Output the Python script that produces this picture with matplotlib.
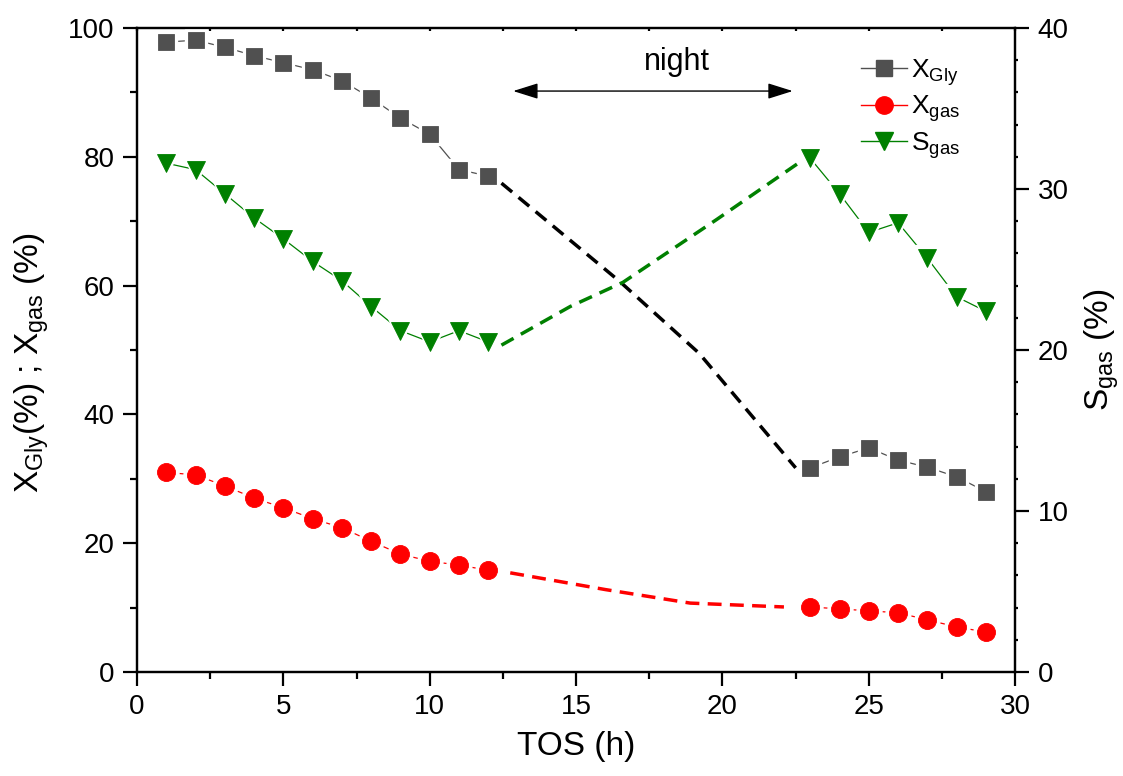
import matplotlib
matplotlib.use("Agg")
import matplotlib.pyplot as plt
from matplotlib.lines import Line2D
from matplotlib.ticker import MultipleLocator

plt.rcParams['font.family'] = ['Liberation Sans', 'DejaVu Sans']
plt.rcParams['mathtext.fontset'] = 'custom'
plt.rcParams['mathtext.rm'] = 'Liberation Sans'
plt.rcParams['mathtext.it'] = 'Liberation Sans:italic'
plt.rcParams['mathtext.bf'] = 'Liberation Sans:bold'

# ---- data ----
tos_day1 = [1, 2, 3, 4, 5, 6, 7, 8, 9, 10, 11, 12]
tos_day2 = [23, 24, 25, 26, 27, 28, 29]

x_gly_day1 = [97.8, 98.1, 97.0, 95.7, 94.6, 93.5, 91.8, 89.1, 86.0, 83.5, 78.0, 77.0]
x_gly_day2 = [31.7, 33.4, 34.8, 32.9, 31.8, 30.3, 28.0]

x_gas_day1 = [31.0, 30.6, 28.9, 27.0, 25.5, 23.8, 22.4, 20.3, 18.3, 17.2, 16.6, 15.8]
x_gas_day2 = [10.1, 9.8, 9.5, 9.2, 8.1, 7.0, 6.2]

s_gas_day1 = [31.6, 31.2, 29.7, 28.2, 26.9, 25.5, 24.3, 22.7, 21.2, 20.5, 21.2, 20.5]
s_gas_day2 = [31.9, 29.7, 27.3, 27.9, 25.7, 23.3, 22.4]

# night (no measurement) guide curves
night_gly_x = [12.45, 16.5, 19.2, 22.5]
night_gly_y = [75.9, 60.6, 49.5, 31.7]
night_gas_x = [12.75, 16.0, 18.9, 22.1]
night_gas_y = [15.4, 12.8, 10.7, 10.1]
night_sgas_x = [12.45, 14.8, 16.6, 19.8, 22.75]
night_sgas_y = [20.3, 22.7, 24.2, 28.1, 31.8]

fig = plt.figure(figsize=(11.23, 7.76), dpi=100)
ax = fig.add_axes([0.122, 0.134, 0.782, 0.830])
ax2 = ax.twinx()

c_gly = '#505050'
c_gas = '#ff0000'
c_s = '#008000'

def series(a, xs, ys, color, marker, ms):
    a.plot(xs, ys, '-', color=color, lw=0.9, zorder=2)
    a.plot(xs, ys, linestyle='none', marker=marker, ms=ms + 5, mfc='white',
           mec='white', zorder=3)
    a.plot(xs, ys, linestyle='none', marker=marker, ms=ms, mfc=color,
           mec=color, mew=0.6, zorder=4)

for xs, ys in [(tos_day1, x_gly_day1), (tos_day2, x_gly_day2)]:
    series(ax, xs, ys, c_gly, 's', 11.5)
for xs, ys in [(tos_day1, x_gas_day1), (tos_day2, x_gas_day2)]:
    series(ax, xs, ys, c_gas, 'o', 13)
for xs, ys in [(tos_day1, s_gas_day1), (tos_day2, s_gas_day2)]:
    series(ax2, xs, ys, c_s, 'v', 13)

dash = (0, (4, 2.4))
ax.plot(night_gly_x, night_gly_y, color='black', lw=2.5, linestyle=dash, zorder=1)
ax.plot(night_gas_x, night_gas_y, color=c_gas, lw=2.5, linestyle=dash, zorder=1)
ax2.plot(night_sgas_x, night_sgas_y, color=c_s, lw=2.5, linestyle=dash, zorder=1)

# night annotation
ax.annotate('', xy=(12.85, 90.2), xytext=(22.4, 90.2),
            arrowprops=dict(arrowstyle='<|-|>,head_length=0.7,head_width=0.22',
                            color='black', lw=1.0,
                            mutation_scale=22, shrinkA=0, shrinkB=0))
ax.text(18.45, 94.7, 'night', fontsize=22, ha='center', va='center')

# axes limits and ticks
ax.set_xlim(0, 30)
ax.set_ylim(0, 100)
ax2.set_ylim(0, 40)
ax.xaxis.set_major_locator(MultipleLocator(5))
ax.xaxis.set_minor_locator(MultipleLocator(2.5))
ax.yaxis.set_major_locator(MultipleLocator(20))
ax.yaxis.set_minor_locator(MultipleLocator(10))
ax2.yaxis.set_major_locator(MultipleLocator(10))
ax2.yaxis.set_minor_locator(MultipleLocator(2))

for a in (ax, ax2):
    for s in a.spines.values():
        s.set_linewidth(1.6)

ax.tick_params(axis='both', which='major', direction='out', length=10, width=1.6,
               labelsize=20, pad=6)
ax.tick_params(axis='both', which='minor', direction='out', length=5, width=1.6)
ax.tick_params(axis='x', which='both', top=True)
ax.tick_params(axis='x', which='major', labeltop=False)
ax2.tick_params(axis='y', which='major', direction='out', length=10, width=1.6,
                labelsize=20, pad=6)
ax2.tick_params(axis='y', which='minor', direction='out', length=2.5, width=1.6)
# top ticks: tiny inward
for t in ax.xaxis.get_major_ticks() + ax.xaxis.get_minor_ticks():
    t.tick2line.set_markersize(2)
    t.tick2line.set_marker(3)

ax.set_xlabel('TOS (h)', fontsize=24, labelpad=8)
ax.set_ylabel(r'X$_{\mathrm{Gly}}$(%) ; X$_{\mathrm{gas}}$ (%)', fontsize=24)
ax.yaxis.set_label_coords(-0.098, 0.48)
ax2.set_ylabel(r'S$_{\mathrm{gas}}$ (%)', fontsize=24, labelpad=10)

handles = [
    Line2D([], [], color=c_gly, lw=1.0, marker='s', ms=11, mfc=c_gly, mec=c_gly),
    Line2D([], [], color=c_gas, lw=1.0, marker='o', ms=12.5, mfc=c_gas, mec=c_gas),
    Line2D([], [], color=c_s, lw=1.0, marker='v', ms=12.5, mfc=c_s, mec=c_s),
]
labels = [r'X$_{\mathrm{Gly}}$', r'X$_{\mathrm{gas}}$', r'S$_{\mathrm{gas}}$']
ax2.legend(handles, labels, loc='upper left', bbox_to_anchor=(0.824, 0.955),
           frameon=False, fontsize=19, handlelength=1.75, handletextpad=0.15,
           labelspacing=0.22, borderaxespad=0, borderpad=0)

fig.savefig('out.png', dpi=100)
